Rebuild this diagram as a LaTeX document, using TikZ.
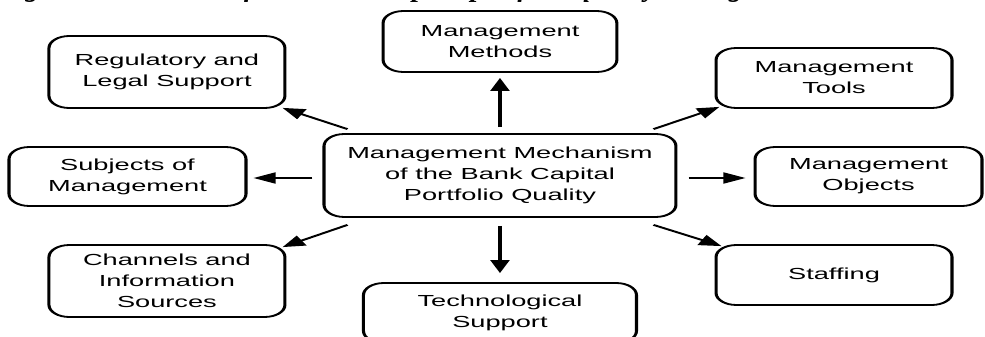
\documentclass[tikz,border=0pt]{standalone}
\usepackage{fontspec}
\setmainfont{Liberation Sans}
\newfontfamily\titlefont{Liberation Serif}
\usetikzlibrary{arrows.meta}
\begin{document}
\begin{tikzpicture}[x=1pt,y=1pt,
  box/.style={draw, line width=1.8pt, rounded corners=12pt, align=center, inner sep=0pt, font=\fontsize{16}{21}\selectfont},
  arr/.style={line width=1.8pt, -{Triangle[length=13pt,width=11pt]}}]
\useasboundingbox (0,0) rectangle (985,-337);
\fill[white] (0,0) rectangle (985,-337);
\clip (0,0) rectangle (985,-337);
\node[anchor=base west, inner sep=0pt, font=\titlefont\bfseries\itshape\fontsize{28}{30}\selectfont] (title) at (-1,3) {Figure 2. Elements of the bank’s capital portfolio quality management};
\begin{scope}[transform canvas={xscale=1.7}]
\node[box, minimum width=207pt, minimum height=83pt] (M) at (294.1,-175.5) {Management Mechanism\\of the Bank Capital\\Portfolio Quality};
\node[box, minimum width=137.5pt, minimum height=61pt] (meth) at (294.1,-41.5) {Management\\Methods};
\node[box, minimum width=138.8pt, minimum height=72pt] (reg) at (98.2,-72) {Regulatory and\\Legal Support};
\node[box, minimum width=139.4pt, minimum height=59pt] (subj) at (75,-176.5) {Subjects of\\Management};
\node[box, minimum width=138.8pt, minimum height=72pt] (chan) at (98.2,-281) {Channels and\\Information\\Sources};
\node[box, minimum width=138.8pt, minimum height=60pt] (tools) at (490.6,-78) {Management\\Tools};
\node[box, minimum width=133.5pt, minimum height=59pt] (obj) at (510.9,-176.5) {Management\\Objects};
\node[box, minimum width=138.8pt, minimum height=60pt] (staff) at (490.6,-275) {Staffing};
\node[box, minimum width=160.6pt, minimum height=60pt] (tech) at (294.1,-313) {Technological\\Support};
\draw[arr] ([yshift=6]M.north) -- ([yshift=-5]meth.south);
\draw[arr] ([shift={(14.7,4)}]M.north west) -- ([shift={(-2.3,1)}]reg.south east);
\draw[arr] ([shift={(-6,-2.5)}]M.west) -- ([shift={(3.5,-1.5)}]subj.east);
\draw[arr] ([shift={(14.7,-7)}]M.south west) -- ([shift={(-2.3,-3)}]chan.north east);
\draw[arr] ([shift={(-14.1,4)}]M.north east) -- ([shift={(2.9,2)}]tools.south west);
\draw[arr] ([shift={(6.5,-2.5)}]M.east) -- ([shift={(-4.7,-1.5)}]obj.west);
\draw[arr] ([shift={(-14.1,-7)}]M.south east) -- ([shift={(4.1,-2)}]staff.north west);
\draw[arr] ([yshift=-8]M.south) -- ([yshift=9]tech.north);
\end{scope}
\end{tikzpicture}
\end{document}
